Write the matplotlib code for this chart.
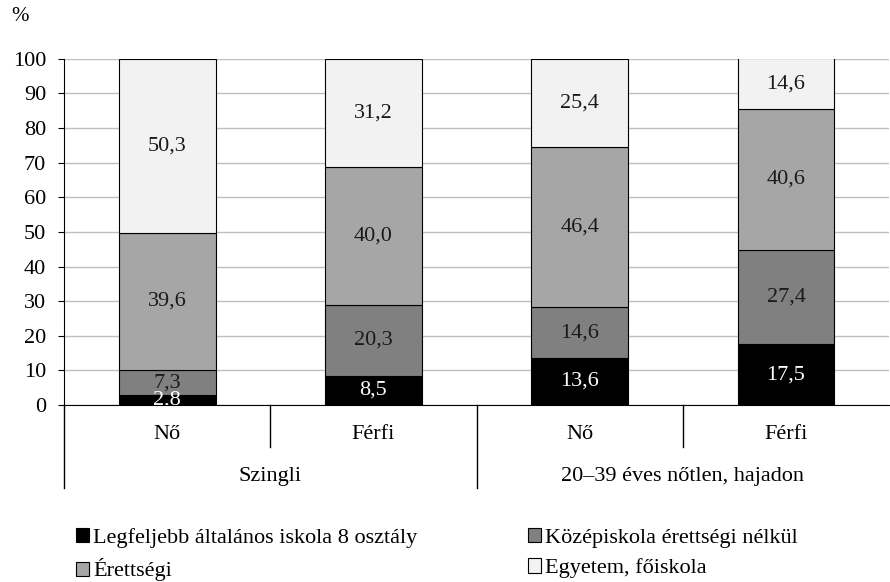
import matplotlib.pyplot as plt
from matplotlib.patches import Patch
import numpy as np

plt.rcParams['font.family'] = ['Liberation Serif', 'DejaVu Serif']

groups = ['Szingli', '20–39 éves nőtlen, hajadon']
categories = ['Nő', 'Férfi', 'Nő', 'Férfi']
series_names = ['Legfeljebb általános iskola 8 osztály',
                'Középiskola érettségi nélkül',
                'Érettségi',
                'Egyetem, főiskola']
alap = [2.8, 8.5, 13.6, 17.5]
kozep = [7.3, 20.3, 14.6, 27.4]
erettsegi = [39.6, 40.0, 46.4, 40.6]
egyetem = [50.3, 31.2, 25.4, 14.6]

COLORS = ['#000000', '#808080', '#A6A6A6', '#F2F2F2']
LABEL_COLORS = ['white', '#1a1a1a', '#1a1a1a', '#1a1a1a']
FS = 16

fig = plt.figure(figsize=(8.9, 5.82), dpi=100)
ax = fig.add_axes([0.072, 0.304, 0.927, 0.595])

x = np.arange(len(categories))
bottom = np.zeros(len(categories))
for vals, col, lcol in zip([alap, kozep, erettsegi, egyetem], COLORS, LABEL_COLORS):
    vals = np.array(vals)
    ax.bar(x, vals, 0.47, bottom=bottom, color=col, edgecolor='black', linewidth=0.8, zorder=3)
    for xi, b, v in zip(x, bottom, vals):
        ax.text(xi, b + v / 2, f'{v:.1f}'.replace('.', ','), ha='center', va='center',
                color=lcol, fontsize=FS, zorder=4)
    bottom += vals

ax.set_xlim(-0.5, 3.5)
ax.set_ylim(0, 100)
ax.set_yticks(range(0, 101, 10))
ax.yaxis.grid(True, color='#BFBFBF', linewidth=1, zorder=0)
ax.tick_params(axis='y', labelsize=FS, length=4, direction='out', pad=9)
ax.set_xticks([])
for s in ['top', 'right']:
    ax.spines[s].set_visible(False)
ax.spines['bottom'].set_zorder(5)

# category and group labels under the axis
trans = ax.get_xaxis_transform()
for xi, c in zip(x, categories):
    ax.text(xi, -0.085, c, transform=trans, ha='center', va='center', fontsize=FS)
for gi, g in enumerate(groups):
    ax.text(2 * gi + 0.5, -0.205, g, transform=trans, ha='center', va='center', fontsize=FS)
for xb in [-0.5, 1.5]:
    ax.plot([xb, xb], [0, -0.24], transform=trans, color='black', lw=1, clip_on=False)
for xb in [0.5, 2.5]:
    ax.plot([xb, xb], [0, -0.122], transform=trans, color='black', lw=1, clip_on=False)

fig.text(0.013, 0.972, '%', fontsize=FS - 1, va='center')

handles = [Patch(facecolor=c, edgecolor='black', linewidth=0.8) for c in COLORS]
order = [0, 2, 1, 3]
fig.legend([handles[i] for i in order], [series_names[i] for i in order],
           loc='upper left', bbox_to_anchor=(0.085, 0.093), ncol=2, frameon=False,
           fontsize=FS, handlelength=0.6, handleheight=0.6, handletextpad=0.2,
           columnspacing=4.95, labelspacing=0.48, borderaxespad=0, borderpad=0)

fig.savefig('out.png', dpi=100)
